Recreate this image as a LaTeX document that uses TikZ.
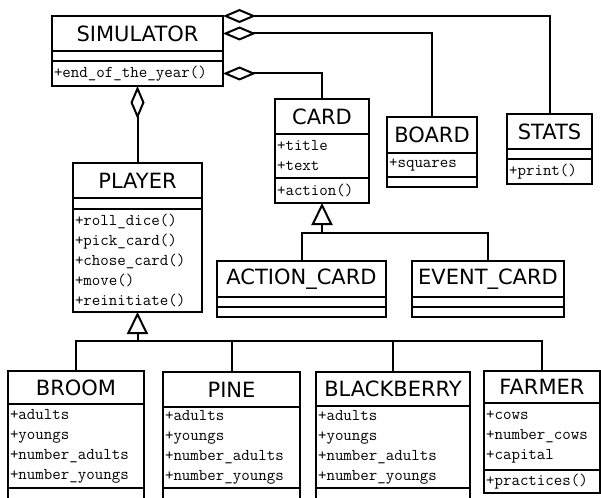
\documentclass[tikz,border=0pt]{standalone}
\usepackage{fontspec}
\usetikzlibrary{arrows.meta,calc}
\newfontfamily\umlsans{DejaVu Sans}
\newcommand\headfont{\umlsans\fontsize{21}{25}\selectfont}
\newcommand\slotfont{\ttfamily\fontsize{16.5}{20}\selectfont}
\tikzset{
  uml/.style={draw, line width=2pt, outer sep=0pt, inner sep=0pt, anchor=north west},
  head/.style={uml, font=\headfont},
  slot/.style={uml, font=\slotfont, align=left, inner xsep=2pt},
  aggr/.style={{Diamond[open,length=33pt,width=14pt]}-, line width=2pt},
  inh/.style={-{Triangle[open,length=22pt,width=21pt]}, line width=2pt},
  link/.style={line width=2pt}
}
\begin{document}
\begin{tikzpicture}[x=1pt,y=-1pt]
  \clip (0,0) rectangle (601,497);

  % simulator
  \node[head, minimum width=171pt, minimum height=35pt] (sim) at (52,16) {SIMULATOR};
  \node[slot, minimum width=171pt, minimum height=10pt] (simA) at (sim.south west) {};
  \node[slot, text width=167pt, minimum height=25pt] (simM) at (simA.south west) {+end\_of\_the\_year()};

  % card, board, stats
  \node[head, minimum width=94pt, minimum height=35pt] (card) at (275,99) {CARD};
  \node[slot, text width=90pt, minimum height=44pt] (cardA) at (card.south west) {+title\\+text};
  \node[slot, text width=90pt, minimum height=25pt] (cardM) at (cardA.south west) {+action()};

  \node[head, minimum width=90pt, minimum height=36pt] (board) at (387,117) {BOARD};
  \node[slot, text width=86pt, minimum height=24pt] (boardA) at (board.south west) {+squares};
  \node[slot, minimum width=90pt, minimum height=10pt] (boardM) at (boardA.south west) {};

  \node[head, minimum width=85pt, minimum height=35pt] (stats) at (507,114) {STATS};
  \node[slot, minimum width=85pt, minimum height=10pt] (statsA) at (stats.south west) {};
  \node[slot, text width=81pt, minimum height=25pt] (statsM) at (statsA.south west) {+print()};

  % player
  \node[head, minimum width=129pt, minimum height=35pt] (player) at (73,163) {PLAYER};
  \node[slot, minimum width=129pt, minimum height=11pt] (playerA) at (player.south west) {};
  \node[slot, text width=125pt, minimum height=103pt] (playerM) at (playerA.south west)
    {+roll\_dice()\\+pick\_card()\\+chose\_card()\\+move()\\+reinitiate()};

  % card kinds
  \node[head, minimum width=169pt, minimum height=36pt] (action) at (217,261) {ACTION\_CARD};
  \node[slot, minimum width=169pt, minimum height=10pt] (actionA) at (action.south west) {};
  \node[slot, minimum width=169pt, minimum height=10pt] (actionM) at (actionA.south west) {};

  \node[head, minimum width=152pt, minimum height=36pt] (event) at (412,261) {EVENT\_CARD};
  \node[slot, minimum width=152pt, minimum height=10pt] (eventA) at (event.south west) {};
  \node[slot, minimum width=152pt, minimum height=10pt] (eventM) at (eventA.south west) {};

  % player kinds
  \node[head, minimum width=136pt, minimum height=33pt] (broom) at (8,371) {BROOM};
  \node[slot, text width=132pt, minimum height=84pt] (broomA) at (broom.south west)
    {+adults\\+youngs\\+number\_adults\\+number\_youngs};
  \node[slot, minimum width=136pt, minimum height=30pt] (broomM) at (broomA.south west) {};

  \node[head, minimum width=137pt, minimum height=35pt] (pine) at (163,372) {PINE};
  \node[slot, text width=133pt, minimum height=81pt] (pineA) at (pine.south west)
    {+adults\\+youngs\\+number\_adults\\+number\_youngs};
  \node[slot, minimum width=137pt, minimum height=30pt] (pineM) at (pineA.south west) {};

  \node[head, minimum width=154pt, minimum height=34pt] (blackberry) at (316,372) {BLACKBERRY};
  \node[slot, text width=150pt, minimum height=82pt] (blackberryA) at (blackberry.south west)
    {+adults\\+youngs\\+number\_adults\\+number\_youngs};
  \node[slot, minimum width=154pt, minimum height=30pt] (blackberryM) at (blackberryA.south west) {};

  \node[head, minimum width=116pt, minimum height=32pt] (farmer) at (484,371) {FARMER};
  \node[slot, text width=112pt, minimum height=67pt] (farmerA) at (farmer.south west)
    {+cows\\+number\_cows\\+capital};
  \node[slot, text width=112pt, minimum height=23pt] (farmerM) at (farmerA.south west) {+practices()};

  % aggregations
  \draw[aggr] (sim.north east) -| (stats.north);
  \draw[aggr] (sim.east) -| (board.north);
  \draw[aggr] (simM.east) -| (card.north);
  \draw[aggr] (simM.south) -- (player.north);

  % inheritance
  \coordinate (pj) at ([yshift=-29pt]playerM.south);
  \draw[inh] (pj) -- (playerM.south);
  \draw[link] (broom.north) |- (pj) -| (farmer.north);
  \draw[link] (pine.north) -- (pine.north |- pj);
  \draw[link] (blackberry.north) -- (blackberry.north |- pj);

  \coordinate (cj) at ([yshift=-30pt]cardM.south);
  \draw[inh] (cj) -- (cardM.south);
  \draw[link] (action.north) |- (cj) -| (event.north);
\end{tikzpicture}
\end{document}
